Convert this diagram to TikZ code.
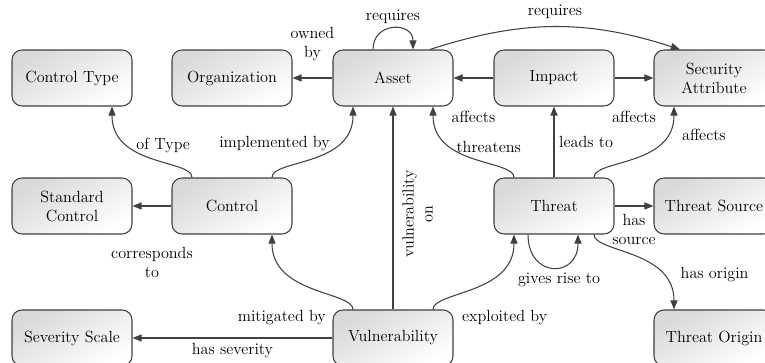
\documentclass[tikz,border=0pt]{standalone}
\usepackage{xcolor}
\usepackage{tikz}
\usetikzlibrary{calc}
\usetikzlibrary{arrows.meta}
\definecolor{garis}{HTML}{404040}

\begin{document}
\begin{tikzpicture}[
        font=\fontsize{11.5}{13.5}\selectfont,
        kotak/.style={draw=garis, line width=0.75pt, rounded corners=0.25cm, minimum width=3cm, minimum height=1.4cm, align=center, top color=gray!30, bottom color=white, shading angle=30},
        panah/.style={draw=garis, line width=0.75pt, -{Triangle[length=2.3mm,width=1.8mm]}},
        ket/.style={align=center, text=black}
    ]
        %GRID
        %\draw[lightgray] (0,0) grid (19,9);
        \useasboundingbox (0,0) rectangle (19.125,9.075);
        %KOTAK ATAS
        \node[kotak] (ctype) at (1.8,7.125) {Control Type};
        \node[kotak] (org) at (5.8,7.125) {Organization};
        \node[kotak] (asset) at (9.825,7.125) {Asset};
        \node[kotak] (impact) at (13.85,7.125) {Impact};
        \node[kotak] (secattr) at (17.85,7.125) {Security\\Attribute};
        %KOTAK TENGAH
        \node[kotak] (stdctrl) at (1.8,3.925) {Standard\\Control};
        \node[kotak] (control) at (5.8,3.925) {Control};
        \node[kotak] (threat) at (13.85,3.925) {Threat};
        \node[kotak] (tsource) at (17.85,3.925) {Threat Source};
        %KOTAK BAWAH
        \node[kotak] (sevscale) at (1.8,0.625) {Severity Scale};
        \node[kotak] (vuln) at (9.825,0.625) {Vulnerability};
        \node[kotak] (torigin) at (17.85,0.625) {Threat Origin};
        %PANAH LURUS
        \draw[panah] (asset) -- (org) node[ket, midway, above=0.3cm]{owned\\by};
        \draw[panah] (impact) -- (asset) node[ket, midway, below=0.7cm]{affects};
        \draw[panah] (impact) -- (secattr) node[ket, midway, below=0.7cm]{affects};
        \draw[panah] (threat) -- (impact) node[ket, midway, right]{leads to};
        \draw[panah] (vuln) -- (asset) node[ket, pos=0.47, sloped, below, inner sep=0.22cm]{vulnerability\\on};
        \draw[panah] (control) -- (stdctrl) node[ket, midway, below=0.9cm]{corresponds\\to};
        \draw[panah] (vuln) -- (sevscale) node[ket, midway, below]{has severity};
        \draw[panah] (threat) -- (tsource) node[ket, midway, below=2pt]{has\\source};
        %PANAH LENGKUNG
        \draw[panah] ([xshift=-1cm]control.north) .. controls +(0,0.45) and +(0,-1.5) .. ([xshift=1cm]ctype.south) node[ket, midway, above, xshift=0.28cm]{of Type};
        \draw[panah] ([xshift=1cm]control.north) .. controls +(0,0.45) and +(0,-1.5) .. ([xshift=-1cm]asset.south) node[ket, midway, above, xshift=-0.95cm, yshift=0.05cm]{implemented by};
        \draw[panah] ([xshift=-1cm]threat.north) .. controls +(0,0.45) and +(0,-1.5) .. ([xshift=1cm]asset.south) node[ket, midway, above, xshift=0.38cm]{threatens};
        \draw[panah] ([xshift=1cm]threat.north) .. controls +(0,0.45) and +(0,-1.5) .. ([xshift=-1cm]secattr.south) node[ket, pos=0.8, right, xshift=0.28cm]{affects};
        \draw[panah] ([xshift=-1cm]vuln.north) .. controls +(0,0.45) and +(0,-1.5) .. ([xshift=1cm]control.south) node[ket, at start, anchor=north east, xshift=-0.55cm, yshift=0.1cm]{mitigated by};
        \draw[panah] ([xshift=1cm]vuln.north) .. controls +(0,0.45) and +(0,-1.5) .. ([xshift=-1cm]threat.south) node[ket, at start, anchor=north west, xshift=0.6cm, yshift=0.1cm]{exploited by};
        \draw[panah] ([xshift=1cm]threat.south) .. controls +(0,-0.45) and +(0,1.5) .. ([xshift=-1cm]torigin.north) node[ket, pos=0.75, right, xshift=0.35cm]{has origin};
        %PANAH PUTAR
        \draw[panah] ([xshift=-0.5cm]asset.north) .. controls +(0,0.7) and +(0,0.7) .. ([xshift=0.5cm]asset.north) node[ket, midway, above]{requires};
        \draw[panah] ([xshift=-0.65cm]threat.south) .. controls +(0,-1.1) and +(0,-1.1) .. ([xshift=0.6cm]threat.south) node[ket, midway, below, xshift=0.15cm]{gives rise to};
        %PANAH ATAS
        \draw[panah] ([xshift=0.925cm]asset.north) to[bend left=18] node[ket, midway, above=2pt]{requires} ([xshift=-0.85cm]secattr.north);
\end{tikzpicture}
\end{document}
